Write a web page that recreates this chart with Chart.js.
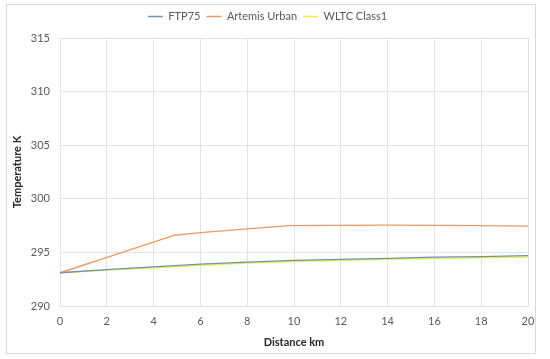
<!DOCTYPE html>
<html>
<head>
<meta charset="utf-8">
<script src="https://cdn.jsdelivr.net/npm/chart.js@4"></script>
<style>
  body { margin: 0; background: #fff; }
  #box {
    position: absolute; left: 6px; top: 4px;
    width: 528px; height: 348px;
    border: 1px solid #d9d9d9;
  }
  canvas { display: block; }
</style>
</head>
<body>
<div id="box"><canvas id="myChart" width="528" height="348"></canvas></div>
<script>
// distance (km) and temperature (K)
const ftpX = [0, 2, 4, 6, 8, 10, 12, 14, 16, 18, 20];
const ftpY = [293.1, 293.4, 293.65, 293.9, 294.1, 294.25, 294.35, 294.45, 294.55, 294.6, 294.7];

const artemisX = [0, 4.9, 6, 8, 9.8, 14, 18, 20];
const artemisY = [293.1, 296.6, 296.85, 297.2, 297.5, 297.55, 297.5, 297.45];

const wltcX = [0, 2, 4, 6, 8, 10, 12, 14, 16, 18, 20];
const wltcY = [293.1, 293.35, 293.55, 293.8, 294.0, 294.15, 294.25, 294.35, 294.45, 294.5, 294.55];

const seriesNames = ['FTP75', 'Artemis Urban', 'WLTC Class1'];
const xTitle = 'Distance km';
const yTitle = 'Temperature K';

const toPoints = (xs, ys) => xs.map((x, i) => ({ x: x, y: ys[i] }));

const font = "Lato, 'Open Sans', sans-serif";
Chart.defaults.font.family = font;

// leaves some room under the legend, like the excel chart
const legendGap = {
    id: 'legendGap',
    beforeInit(chart) {
        const lg = chart.legend;
        const fit = lg.fit;
        lg.fit = function () {
            fit.bind(lg)();
            this.height += 6;
        };
    }
};

const ctx = document.getElementById('myChart').getContext('2d');
new Chart(ctx, {
    type: 'line',
    data: {
        datasets: [
            { label: seriesNames[0], data: toPoints(ftpX, ftpY), borderColor: '#6a93b8', backgroundColor: '#6a93b8' },
            { label: seriesNames[1], data: toPoints(artemisX, artemisY), borderColor: '#ee9a66', backgroundColor: '#ee9a66' },
            { label: seriesNames[2], data: toPoints(wltcX, wltcY), borderColor: '#f2ee3a', backgroundColor: '#f2ee3a' }
        ]
    },
    plugins: [legendGap],
    options: {
        responsive: false,
        animation: false,
        elements: {
            point: { radius: 0 },
            line: { borderWidth: 1.3, tension: 0 }
        },
        layout: { padding: { left: 0, right: 7, top: 0, bottom: 0 } },
        plugins: {
            tooltip: { enabled: false },
            legend: {
                position: 'top',
                labels: {
                    boxWidth: 15,
                    boxHeight: 0,
                    padding: 6,
                    color: '#595959',
                    font: { size: 11 }
                }
            }
        },
        scales: {
            x: {
                type: 'linear',
                min: 0,
                max: 20,
                ticks: { stepSize: 2, color: '#595959', font: { size: 11 }, padding: 9 },
                grid: { color: '#e3e3e3', drawTicks: false },
                border: { display: false },
                title: { display: true, text: xTitle, color: '#262626', font: { size: 11, weight: 'bold' }, padding: { top: 3 } },
                afterFit: s => { s.height = 47; s.paddingRight = 0; s.paddingLeft = 0; }
            },
            y: {
                min: 290,
                max: 315,
                ticks: { stepSize: 5, color: '#595959', font: { size: 11 }, padding: 10 },
                grid: { color: '#e3e3e3', drawTicks: false },
                border: { display: false },
                title: { display: true, text: yTitle, color: '#262626', font: { size: 11, weight: 'bold' } },
                afterFit: s => { s.width = 53; }
            }
        }
    }
});
</script>
</body>
</html>
